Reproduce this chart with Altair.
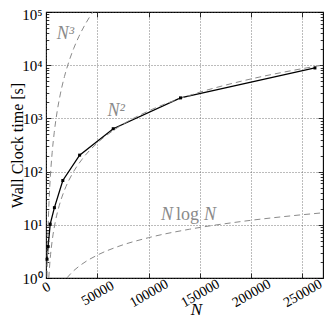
import altair as alt
import pandas as pd

# ---- data ----
N_pts = [1024, 2048, 4096, 8192, 16384, 32768, 65536, 131072, 262144]
t_pts = [2.25, 3.9, 10.3, 21.0, 68.0, 204.0, 640.0, 2430.0, 8870.0]

# reference curves
n3_N = [1000, 1500, 2000, 3000, 4000, 6000, 8000, 11000, 14000, 18000, 22000, 27000, 32000, 38000, 42000, 45700]
n3_t = [1.05, 3.54, 8.4, 28.4, 67.2, 226.8, 537.6, 1397.6, 2881, 6124, 11180, 20667, 34406, 57616, 77792, 100222]

n2_N = [2700, 4000, 6000, 9000, 13000, 18000, 25000, 35000, 50000, 70000, 100000, 140000, 190000, 240000, 270000]
n2_t = [1.006, 2.21, 4.97, 11.2, 23.3, 44.7, 86.3, 169, 345, 676, 1380, 2705, 4982, 7949, 10060]

nl_N = [20300, 25000, 35000, 50000, 70000, 100000, 140000, 190000, 240000, 270000]
nl_t = [1.0, 1.26, 1.82, 2.69, 3.89, 5.73, 8.26, 11.5, 14.81, 16.82]

ann_text = ["N³", "N²"]
ann_N = [10460, 59900]
ann_t = [31000, 1112]

nlogn_N = [112200]
nlogn_t = [12.1]

x_ticks = [0, 50000, 100000, 150000, 200000, 250000]
y_ticks = [1, 10, 100, 1000, 10000, 100000]
y_tick_labels = ["10⁰", "10¹", "10²", "10³", "10⁴", "10⁵"]
y_minor = [m * 10 ** k for k in range(5) for m in range(2, 10)]

W, H = 277, 266
FONT = "Liberation Serif"
GREY = "#8a8a8a"

xscale = alt.Scale(domain=[0, 270000], nice=False, zero=False)
yscale = alt.Scale(type="log", domain=[1, 100000], nice=False)

y_expr = " : ".join(f"datum.value == {v} ? '{lab}'" for v, lab in zip(y_ticks, y_tick_labels)) + " : ''"
major_test = "indexof([1,10,100,1000,10000,100000], datum.value) >= 0"

main_x_axis = alt.Axis(
    values=x_ticks, format="d", labelAngle=330, labelAlign="center", labelBaseline="middle",
    labelPadding={"condition": {"test": "datum.value == 0", "value": 9}, "value": 15},
    labelFlush=False, labelOverlap=False, ticks=False, domain=False,
    grid=True, gridDash=[1, 2], gridColor="#555555", gridWidth=0.8,
    labelFont=FONT, labelFontSize=14, labelColor="black",
    title="N", titleFont=FONT, titleFontStyle="italic", titleFontSize=17, titleFontWeight="normal",
    titleColor="black", titleX=150, titleY=36, titleAlign="center", titleBaseline="alphabetic",
)
main_y_axis = alt.Axis(
    values=y_ticks, labelExpr=y_expr, ticks=False, domain=False,
    grid=True, gridDash=[1, 2], gridColor="#555555", gridWidth=0.8,
    labelFont=FONT, labelFontSize=15, labelColor="black", labelPadding=4,
    labelOffset={"condition": {"test": "datum.value == 100000", "value": 2}, "value": 0},
    title="Wall Clock time [s]", titleFont=FONT, titleFontSize=16, titleFontWeight="normal",
    titleColor="black", titleX=-37, titleY=H / 2, titleAngle=270, titleAlign="center", titleBaseline="top",
)

y_in_size = {"condition": {"test": major_test, "value": 5}, "value": 2.8}
y_in_left = alt.Axis(orient="right", offset=-W, values=y_ticks + y_minor, labels=False, domain=False,
                     grid=False, tickSize=y_in_size, tickColor="black", tickWidth=0.8, title="")
y_in_right = alt.Axis(orient="left", offset=-W, values=y_ticks + y_minor, labels=False, domain=False,
                      grid=False, tickSize=y_in_size, tickColor="black", tickWidth=0.8, title="")
x_in_bottom = alt.Axis(orient="top", offset=-H, values=x_ticks, labels=False, domain=False,
                       grid=False, tickSize=5, tickColor="black", tickWidth=0.8, title="")
x_in_top = alt.Axis(orient="bottom", offset=-H, values=x_ticks, labels=False, domain=False,
                    grid=False, tickSize=5, tickColor="black", tickWidth=0.8, title="")

df = pd.DataFrame({"N": N_pts, "t": t_pts})
df3 = pd.DataFrame({"N": n3_N, "t": n3_t})
df2 = pd.DataFrame({"N": n2_N, "t": n2_t})
dfl = pd.DataFrame({"N": nl_N, "t": nl_t})
dfa = pd.DataFrame({"N": ann_N, "t": ann_t, "label": ann_text})
dfn = pd.DataFrame({"N": nlogn_N, "t": nlogn_t})

dash = dict(color=GREY, strokeWidth=1, strokeDash=[6, 4], clip=True, interpolate="monotone")

c3 = alt.Chart(df3).mark_line(**dash).encode(
    x=alt.X("N:Q", scale=xscale, axis=x_in_top),
    y=alt.Y("t:Q", scale=yscale, axis=y_in_left),
)
c2 = alt.Chart(df2).mark_line(**dash).encode(
    x=alt.X("N:Q", scale=xscale, axis=x_in_bottom),
    y=alt.Y("t:Q", scale=yscale, axis=y_in_right),
)
cl = alt.Chart(dfl).mark_line(**dash).encode(
    x=alt.X("N:Q", scale=xscale, axis=None),
    y=alt.Y("t:Q", scale=yscale, axis=None),
)

line = alt.Chart(df).mark_line(color="black", strokeWidth=1.3).encode(
    x=alt.X("N:Q", scale=xscale, axis=main_x_axis),
    y=alt.Y("t:Q", scale=yscale, axis=main_y_axis),
)
pts = alt.Chart(df).mark_point(shape="square", size=9, filled=True, color="black", opacity=1).encode(
    x=alt.X("N:Q", scale=xscale, axis=None),
    y=alt.Y("t:Q", scale=yscale, axis=None),
)

txt = dict(font=FONT, fontSize=18, color=GREY, align="left", baseline="alphabetic")
ann = alt.Chart(dfa).mark_text(fontStyle="italic", **txt).encode(
    x=alt.X("N:Q", scale=xscale, axis=None),
    y=alt.Y("t:Q", scale=yscale, axis=None),
    text="label:N",
)
nl1 = alt.Chart(dfn).mark_text(fontStyle="italic", text="N", **txt).encode(
    x=alt.X("N:Q", scale=xscale, axis=None), y=alt.Y("t:Q", scale=yscale, axis=None))
nl2 = alt.Chart(dfn).mark_text(text="log", dx=15, **txt).encode(
    x=alt.X("N:Q", scale=xscale, axis=None), y=alt.Y("t:Q", scale=yscale, axis=None))
nl3 = alt.Chart(dfn).mark_text(fontStyle="italic", text="N", dx=43, **txt).encode(
    x=alt.X("N:Q", scale=xscale, axis=None), y=alt.Y("t:Q", scale=yscale, axis=None))

chart = alt.layer(line, c3, c2, cl, pts, ann, nl1, nl2, nl3).resolve_axis(
    x="independent", y="independent"
).properties(
    width=W, height=H,
    autosize=alt.AutoSizeParams(type="none"),
    padding={"left": 38, "top": 4, "right": 1, "bottom": 40},
    background="white",
).configure_view(stroke="black", strokeWidth=1.1)

chart.save("out.html", embed_options={"renderer": "svg", "actions": False})
